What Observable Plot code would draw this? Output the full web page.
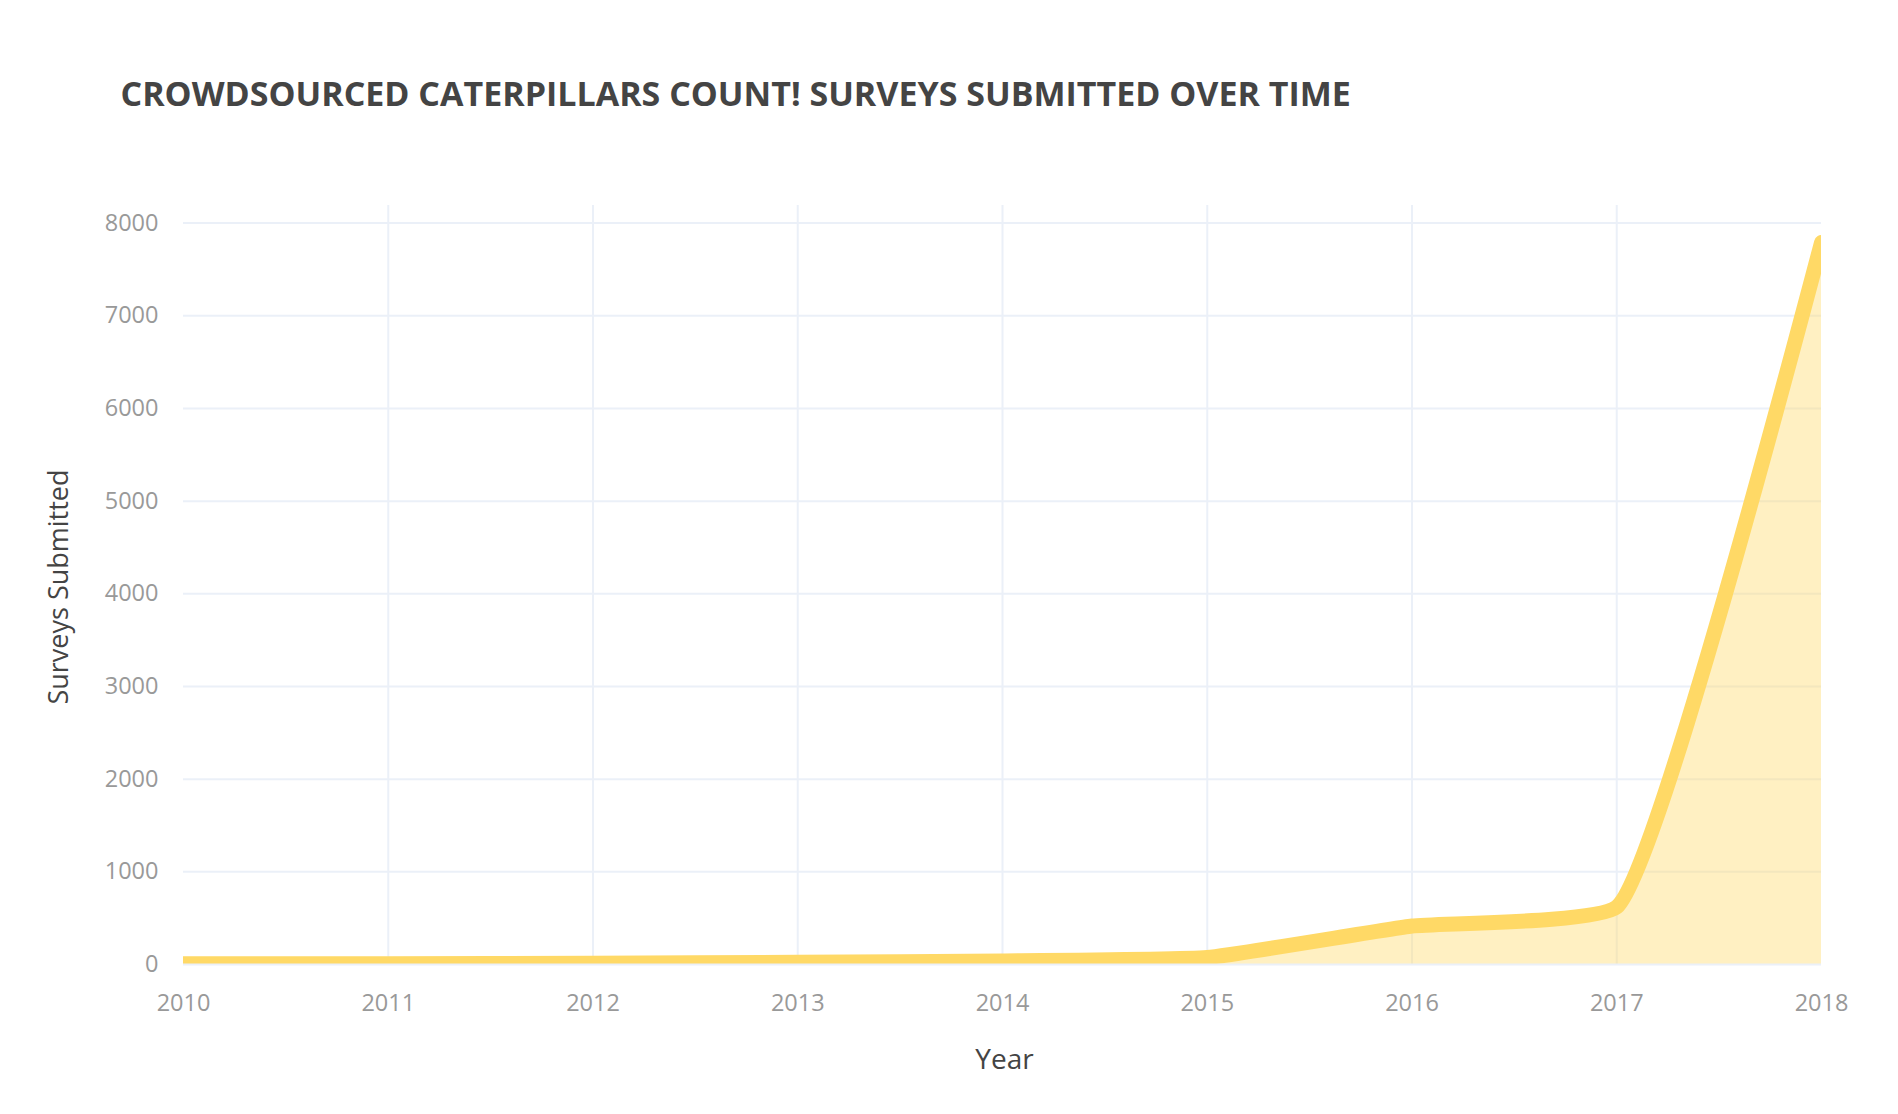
<!DOCTYPE html>
<html>
<head>
<meta charset="utf-8">
<script src="https://cdn.jsdelivr.net/npm/d3@7"></script>
<script src="https://cdn.jsdelivr.net/npm/@observablehq/plot@0.6"></script>
<style>
  html, body { margin: 0; padding: 0; background: #fff; }
  #wrap { position: relative; width: 1898px; height: 1114px; overflow: hidden; }
  #title { position: absolute; left: 120.5px; top: 76px; font-family: "Open Sans", sans-serif; font-weight: 700;
           font-size: 34px; line-height: 34px; color: #444; white-space: nowrap; }
  #chart { position: absolute; left: 0; top: 130px; }
  #chart g[aria-label^="x-axis"] text, #chart g[aria-label^="y-axis"] text { font-size: 23.5px; fill: #999; }
</style>
</head>
<body>
<div id="wrap">
  <div id="title">CROWDSOURCED CATERPILLARS COUNT! SURVEYS SUBMITTED OVER TIME</div>
  <div id="chart"></div>
</div>
<script>
const years = [2010, 2011, 2012, 2013, 2014, 2015, 2016, 2017, 2018];
const surveys = [7, 7, 13, 24, 38, 75, 415, 620, 7790];
const yTicks = [0, 1000, 2000, 3000, 4000, 5000, 6000, 7000, 8000];
const xTicks = years;
const yLabel = "Surveys Submitted";
const xLabel = "Year";

const data = years.map((y, i) => ({year: y, surveys: surveys[i]}));
const lineColor = "#ffd966";
const gridColor = "#ebf0f8";

// Smoothed open spline (centripetal tangents with a smoothing factor), as a d3 curve factory
function splineCurve(smoothness) {
  function tangent(p0, p1, p2) {
    const d1x = p0[0] - p1[0], d1y = p0[1] - p1[1];
    const d2x = p2[0] - p1[0], d2y = p2[1] - p1[1];
    const d1a = Math.pow(d1x * d1x + d1y * d1y, 0.25);
    const d2a = Math.pow(d2x * d2x + d2y * d2y, 0.25);
    const nx = (d2a * d2a * d1x - d1a * d1a * d2x) * smoothness;
    const ny = (d2a * d2a * d1y - d1a * d1a * d2y) * smoothness;
    const den1 = 3 * d2a * (d1a + d2a), den2 = 3 * d1a * (d1a + d2a);
    return [
      [p1[0] + (den1 && nx / den1), p1[1] + (den1 && ny / den1)],
      [p1[0] - (den2 && nx / den2), p1[1] - (den2 && ny / den2)]
    ];
  }
  return function(context) {
    let pts = [], line;
    return {
      areaStart() { line = 0; },
      areaEnd() { line = NaN; },
      lineStart() { pts = []; },
      point(x, y) { pts.push([+x, +y]); },
      lineEnd() {
        const n = pts.length;
        if (n) {
          if (line) context.lineTo(pts[0][0], pts[0][1]);
          else context.moveTo(pts[0][0], pts[0][1]);
          if (n < 3) {
            for (let i = 1; i < n; i++) context.lineTo(pts[i][0], pts[i][1]);
          } else {
            const t = [];
            for (let i = 1; i < n - 1; i++) t.push(tangent(pts[i - 1], pts[i], pts[i + 1]));
            context.quadraticCurveTo(t[0][0][0], t[0][0][1], pts[1][0], pts[1][1]);
            for (let i = 2; i < n - 1; i++) {
              context.bezierCurveTo(t[i - 2][1][0], t[i - 2][1][1], t[i - 1][0][0], t[i - 1][0][1], pts[i][0], pts[i][1]);
            }
            context.quadraticCurveTo(t[n - 3][1][0], t[n - 3][1][1], pts[n - 1][0], pts[n - 1][1]);
          }
        }
        if (line || (line !== 0 && n === 1)) context.closePath();
        line = 1 - line;
      }
    };
  };
}
const curve = splineCurve(0.35);

const chart = Plot.plot({
  width: 1898,
  height: 984,
  marginTop: 75,
  marginBottom: 150,
  marginLeft: 183,
  marginRight: 77,
  style: {fontFamily: "'Open Sans', sans-serif", background: "#fff", overflow: "visible"},
  x: {domain: [2010, 2018], ticks: xTicks, tickFormat: d => String(d), tickSize: 0, tickPadding: 30, label: null},
  y: {domain: [0, 8190], ticks: yTicks, tickFormat: d => String(d), tickSize: 0, tickPadding: 25, label: null},
  marks: [
    Plot.ruleX(years.slice(1, -1), {stroke: gridColor, strokeWidth: 2}),
    Plot.ruleY(yTicks.slice(1), {stroke: gridColor, strokeWidth: 2}),
    Plot.areaY(data, {x: "year", y: "surveys", curve, fill: lineColor, fillOpacity: 0.4, clip: true}),
    Plot.lineY(data, {x: "year", y: "surveys", curve, stroke: lineColor, strokeWidth: 15, clip: true}),
    Plot.ruleY([0], {stroke: gridColor, strokeWidth: 2}),
    Plot.text([yLabel], {frameAnchor: "left", textAnchor: "middle", lineAnchor: "middle", rotate: -90, dx: -124, dy: 2, fontSize: 27, fill: "#444"}),
    Plot.text([xLabel], {frameAnchor: "bottom", textAnchor: "middle", lineAnchor: "middle", dx: 2, dy: 96, fontSize: 28, fill: "#444"})
  ]
});
document.getElementById("chart").appendChild(chart);
</script>
</body>
</html>
